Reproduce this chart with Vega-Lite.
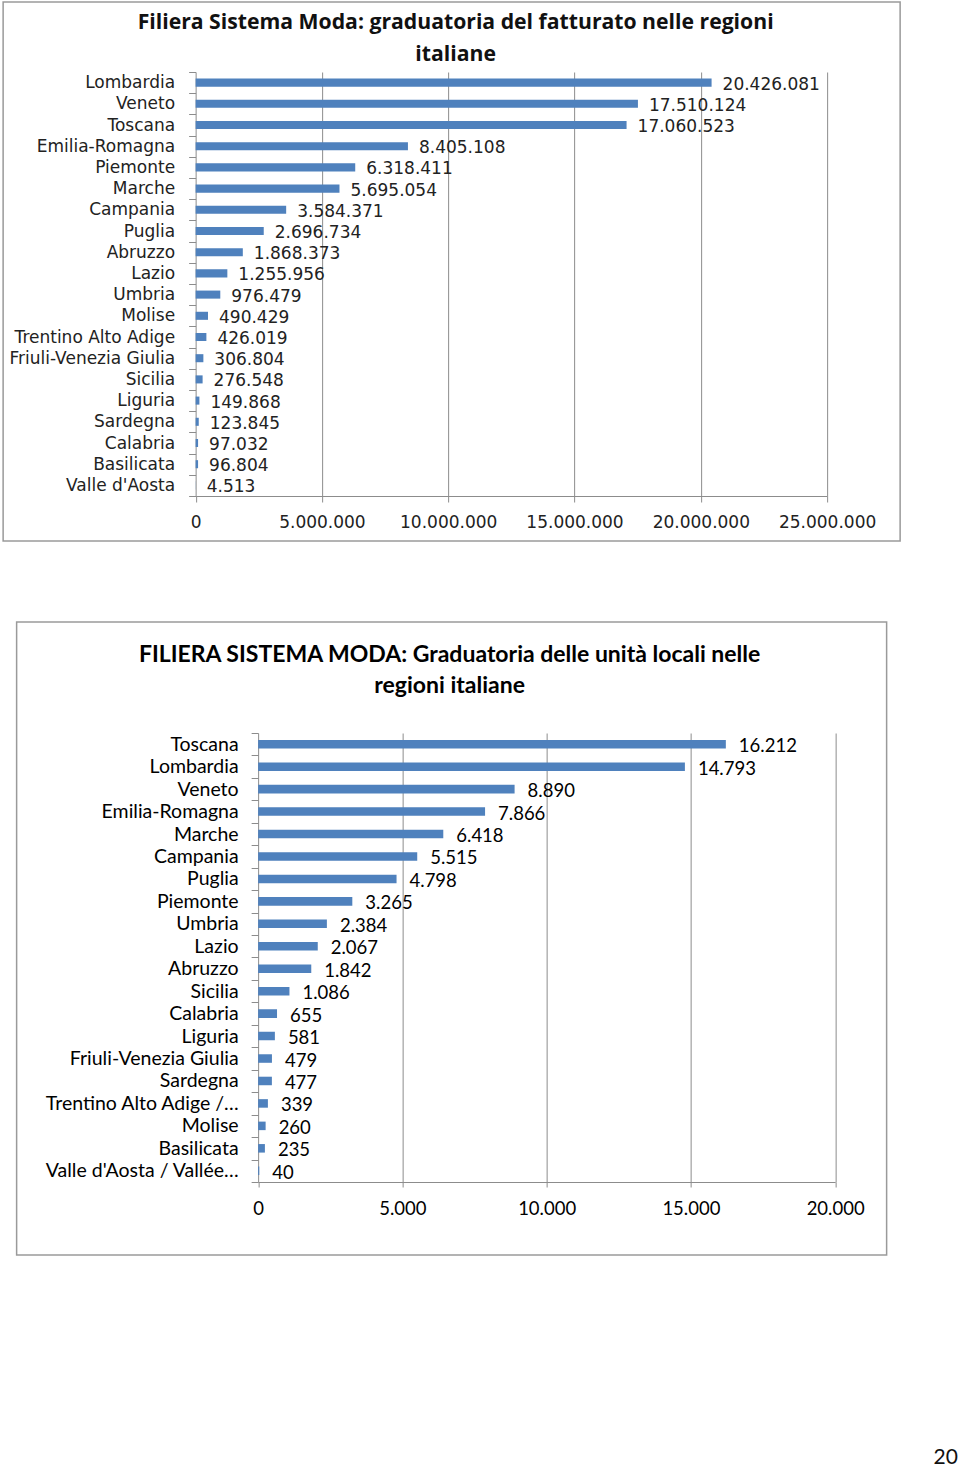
{
  "$schema": "https://vega.github.io/schema/vega-lite/v6.json",
  "background": "white",
  "padding": {"left": 2, "top": -8, "right": 0, "bottom": 0},
  "spacing": 69,
  "center": true,
  "title": {"text": "20", "orient": "bottom", "anchor": "end", "frame": "bounds", "offset": 191, "dx": 57, "font": "Lato", "fontSize": 21, "fontWeight": "normal", "color": "#111"},
  "config": {
    "locale": {"number": {"decimal": ",", "thousands": ".", "grouping": [3], "currency": ["€", ""]}},
    "view": {"stroke": "#9a9a9a", "strokeWidth": 1.5}
  },
  "resolve": {"scale": {"x": "independent", "y": "independent"}},
  "vconcat": [
    {
      "width": 897,
      "height": 539,
      "title": {"text": ["Filiera Sistema Moda: graduatoria del fatturato  nelle regioni", "italiane"], "font": "Open Sans", "fontSize": 21.2, "fontWeight": "bold", "color": "#111", "lineHeight": 31.5, "offset": -72, "anchor": "middle", "frame": "group", "dx": 4},
      "data": {"values": [
        {"regione": "Lombardia", "fatturato": 20426081},
        {"regione": "Veneto", "fatturato": 17510124},
        {"regione": "Toscana", "fatturato": 17060523},
        {"regione": "Emilia-Romagna", "fatturato": 8405108},
        {"regione": "Piemonte", "fatturato": 6318411},
        {"regione": "Marche", "fatturato": 5695054},
        {"regione": "Campania", "fatturato": 3584371},
        {"regione": "Puglia", "fatturato": 2696734},
        {"regione": "Abruzzo", "fatturato": 1868373},
        {"regione": "Lazio", "fatturato": 1255956},
        {"regione": "Umbria", "fatturato": 976479},
        {"regione": "Molise", "fatturato": 490429},
        {"regione": "Trentino Alto Adige", "fatturato": 426019},
        {"regione": "Friuli-Venezia Giulia", "fatturato": 306804},
        {"regione": "Sicilia", "fatturato": 276548},
        {"regione": "Liguria", "fatturato": 149868},
        {"regione": "Sardegna", "fatturato": 123845},
        {"regione": "Calabria", "fatturato": 97032},
        {"regione": "Basilicata", "fatturato": 96804},
        {"regione": "Valle d'Aosta", "fatturato": 4513}
      ]},
      "encoding": {
        "y": {"field": "regione", "type": "nominal", "sort": null,
          "scale": {"range": [70, 494], "paddingInner": 0, "paddingOuter": 0},
          "axis": {"title": null, "orient": "left", "offset": -192.5, "tickBand": "extent", "tickSize": 7, "tickColor": "#8c8c8c", "domainColor": "#8c8c8c", "labelFont": "DejaVu Sans", "labelFontSize": 17, "labelColor": "#222", "labelPadding": 14, "labelLimit": 400, "grid": false}}
      },
      "resolve": {"axis": {"x": "independent"}},
      "layer": [
        {"mark": {"type": "bar", "color": "#4F81BD", "height": {"band": 0.38}},
         "encoding": {"x": {"field": "fatturato", "type": "quantitative",
          "scale": {"domain": [0, 25000000], "range": [192.5, 824], "nice": false},
          "axis": {"title": null, "orient": "bottom", "offset": -45, "values": [0, 5000000, 10000000, 15000000, 20000000, 25000000], "format": ",d", "tickSize": 6, "grid": false, "tickColor": "#8c8c8c", "domainColor": "#8c8c8c", "labelFont": "DejaVu Sans", "labelFontSize": 17, "labelColor": "#222", "labelPadding": 12, "labelFlush": false, "labelOverlap": false}}}},
        {"mark": {"type": "text", "align": "left", "baseline": "middle", "dx": 11, "dy": 2, "font": "DejaVu Sans", "fontSize": 17, "color": "#222"},
         "encoding": {
           "x": {"field": "fatturato", "type": "quantitative",
             "axis": {"title": null, "orient": "bottom", "offset": -45, "values": [5000000, 10000000, 15000000, 20000000, 25000000], "labels": false, "domain": false, "grid": false, "ticks": true, "tickSize": -424, "tickColor": "#8c8c8c"}},
           "text": {"field": "fatturato", "type": "quantitative", "format": ",d"}}}
      ]
    },
    {
      "width": 870,
      "height": 633,
      "title": {"text": ["FILIERA SISTEMA MODA: Graduatoria delle unità locali nelle", "regioni italiane"], "font": "Lato", "fontSize": 23, "fontWeight": "bold", "color": "#000", "lineHeight": 31, "offset": -86, "anchor": "middle", "frame": "group", "dx": -2},
      "data": {"values": [
        {"regione": "Toscana", "unita": 16212},
        {"regione": "Lombardia", "unita": 14793},
        {"regione": "Veneto", "unita": 8890},
        {"regione": "Emilia-Romagna", "unita": 7866},
        {"regione": "Marche", "unita": 6418},
        {"regione": "Campania", "unita": 5515},
        {"regione": "Puglia", "unita": 4798},
        {"regione": "Piemonte", "unita": 3265},
        {"regione": "Umbria", "unita": 2384},
        {"regione": "Lazio", "unita": 2067},
        {"regione": "Abruzzo", "unita": 1842},
        {"regione": "Sicilia", "unita": 1086},
        {"regione": "Calabria", "unita": 655},
        {"regione": "Liguria", "unita": 581},
        {"regione": "Friuli-Venezia Giulia", "unita": 479},
        {"regione": "Sardegna", "unita": 477},
        {"regione": "Trentino Alto Adige /…", "unita": 339},
        {"regione": "Molise", "unita": 260},
        {"regione": "Basilicata", "unita": 235},
        {"regione": "Valle d'Aosta / Vallée…", "unita": 40}
      ]},
      "encoding": {
        "y": {"field": "regione", "type": "nominal", "sort": null,
          "scale": {"range": [111, 560], "paddingInner": 0, "paddingOuter": 0},
          "axis": {"title": null, "orient": "left", "offset": -241.5, "tickBand": "extent", "tickSize": 7, "tickColor": "#8c8c8c", "domainColor": "#8c8c8c", "labelFont": "Lato", "labelFontSize": 19.5, "labelColor": "#000", "labelPadding": 13, "labelLimit": 400, "grid": false}}
      },
      "resolve": {"axis": {"x": "independent"}},
      "layer": [
        {"mark": {"type": "bar", "color": "#4F81BD", "height": {"band": 0.38}},
         "encoding": {"x": {"field": "unita", "type": "quantitative",
          "scale": {"domain": [0, 20000], "range": [241.5, 818.5], "nice": false},
          "axis": {"title": null, "orient": "bottom", "offset": -73, "values": [0, 5000, 10000, 15000, 20000], "format": ",d", "tickSize": 5, "grid": false, "tickColor": "#8c8c8c", "domainColor": "#8c8c8c", "labelFont": "Lato", "labelFontSize": 18.5, "labelColor": "#000", "labelPadding": 12, "labelFlush": false, "labelOverlap": false}}}},
        {"mark": {"type": "text", "align": "left", "baseline": "middle", "dx": 13, "dy": 2, "font": "Lato", "fontSize": 18.5, "color": "#000"},
         "encoding": {
           "x": {"field": "unita", "type": "quantitative",
             "axis": {"title": null, "orient": "bottom", "offset": -73, "values": [5000, 10000, 15000, 20000], "labels": false, "domain": false, "grid": false, "ticks": true, "tickSize": -449, "tickColor": "#8c8c8c"}},
           "text": {"field": "unita", "type": "quantitative", "format": ",d"}}}
      ]
    }
  ]
}
